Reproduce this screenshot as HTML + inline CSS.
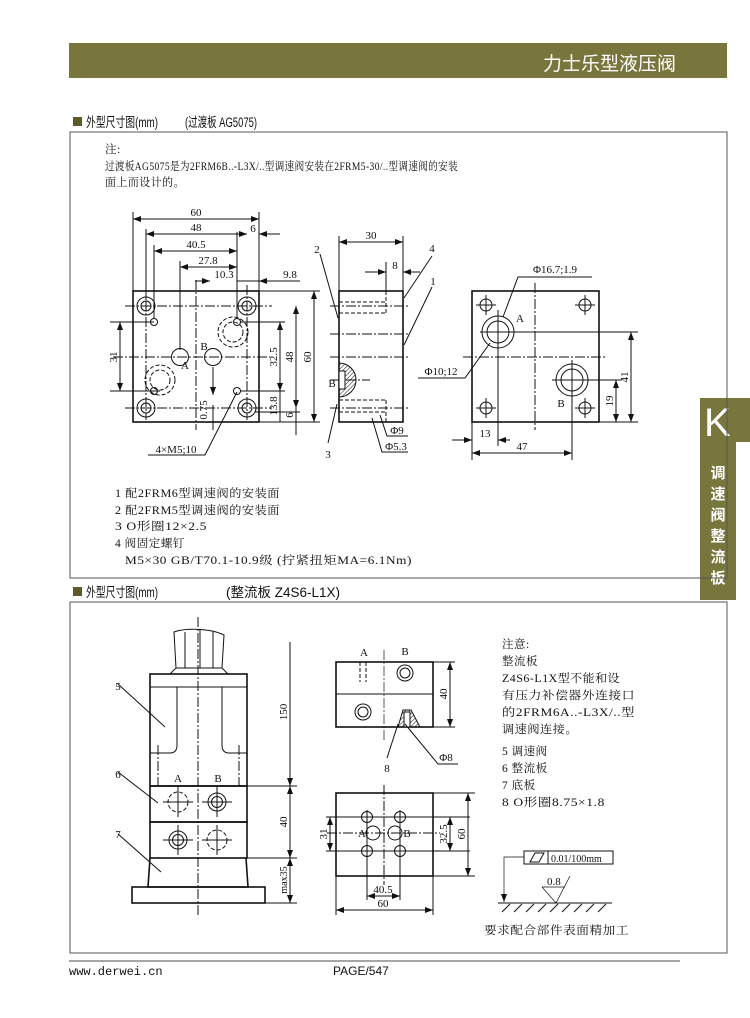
<!DOCTYPE html>
<html><head><meta charset="utf-8"><style>
body{margin:0;background:#fff;}
svg{display:block}
.t{font-family:"Liberation Serif","Noto Serif CJK SC",serif;font-size:11.5px;fill:#111;letter-spacing:0.5px}
.s{font-family:"Liberation Serif","Noto Serif CJK SC",serif;font-size:11px;fill:#111}
.h{font-family:"Liberation Sans","Noto Sans CJK SC",sans-serif;font-size:13.5px;fill:#111}
line,rect,circle,path,polyline{fill:none;stroke:#111;stroke-width:1}
.th{stroke-width:1.6}
.d{stroke-dasharray:4 2}
.c{stroke-dasharray:10 2 2 2;stroke-width:.7}
.dim{stroke-width:.7}
</style></head><body>
<svg width="750" height="1018" viewBox="0 0 750 1018" xmlns="http://www.w3.org/2000/svg">
<defs>
<marker id="a" markerWidth="8" markerHeight="6" refX="8" refY="3" orient="auto-start-reverse" markerUnits="userSpaceOnUse"><path d="M0,0 L8,3 L0,6 z" style="fill:#111;stroke:none"/></marker>
<pattern id="hp" width="3" height="3" patternUnits="userSpaceOnUse" patternTransform="rotate(45)"><line x1="0" y1="0" x2="0" y2="3" style="stroke:#111;stroke-width:1"/></pattern>
</defs>
<rect x="69" y="43" width="658" height="35" style="fill:#79763d;stroke:none"/>
<text x="676" y="70" text-anchor="end" style="font-family:'Liberation Sans','Noto Sans CJK SC',sans-serif;font-size:19px;fill:#fff">力士乐型液压阀</text>
<rect x="700" y="398" width="50" height="44" style="fill:#79763d;stroke:none"/>
<rect x="700" y="440" width="36" height="160" style="fill:#79763d;stroke:none"/>
<text x="704" y="436" style="font-family:'Liberation Sans',sans-serif;font-size:40px;fill:#fff">K</text>
<g style="font-family:'Liberation Sans','Noto Sans CJK SC',sans-serif;font-size:15px;fill:#fff;font-weight:bold" text-anchor="middle">
<text x="718" y="478">调</text><text x="718" y="499">速</text><text x="718" y="520">阀</text><text x="718" y="541">整</text><text x="718" y="562">流</text><text x="718" y="583">板</text></g>
<rect x="73" y="117" width="9" height="9" style="fill:#5d5a2a;stroke:none"/>
<text class="h" x="86" y="127" textLength="72" lengthAdjust="spacingAndGlyphs">外型尺寸图(mm)</text>
<text class="h" x="185" y="127" textLength="72" lengthAdjust="spacingAndGlyphs">(过渡板 AG5075)</text>
<rect x="70" y="132" width="657" height="446" style="stroke:#555"/>
<text class="t" x="105" y="153">注:</text>
<text class="t" x="105" y="170" textLength="353" lengthAdjust="spacingAndGlyphs">过渡板AG5075是为2FRM6B..-L3X/..型调速阀安装在2FRM5-30/..型调速阀的安装</text>
<text class="t" x="105" y="186" textLength="80" lengthAdjust="spacingAndGlyphs">面上而设计的。</text>
<rect x="133" y="291" width="126" height="131" class="th"/>
<g><circle cx="146" cy="306" r="9"/><circle cx="146" cy="306" r="5"/><circle cx="247" cy="306" r="9"/><circle cx="247" cy="306" r="5"/>
<circle cx="146" cy="408" r="9"/><circle cx="146" cy="408" r="5"/><circle cx="247" cy="408" r="9"/><circle cx="247" cy="408" r="5"/>
<circle cx="154" cy="322" r="3.5"/><circle cx="237" cy="322" r="3.5"/><circle cx="154" cy="391" r="3.5"/><circle cx="237" cy="391" r="3.5"/>
<circle cx="180" cy="357" r="8.5"/><circle cx="213" cy="357" r="8.5"/>
<circle cx="233" cy="332" r="15" class="d"/><circle cx="233" cy="332" r="10" class="d"/>
<circle cx="160" cy="380" r="15" class="d"/><circle cx="160" cy="380" r="10" class="d"/></g>
<g class="c"><line x1="113" y1="357" x2="270" y2="357"/><line x1="196" y1="280" x2="196" y2="430"/><line x1="125" y1="306" x2="272" y2="306"/><line x1="125" y1="408" x2="272" y2="408"/><line x1="146" y1="285" x2="146" y2="420"/><line x1="247" y1="285" x2="247" y2="420"/></g>
<g class="dim">
<line x1="133" y1="212" x2="133" y2="291"/><line x1="259" y1="212" x2="259" y2="291"/>
<line x1="146" y1="229" x2="146" y2="300"/><line x1="154" y1="245" x2="154" y2="318"/><line x1="180" y1="261" x2="180" y2="350"/><line x1="237" y1="232" x2="237" y2="318"/>
<line x1="133" y1="219" x2="259" y2="219" marker-start="url(#a)" marker-end="url(#a)"/>
<line x1="146" y1="234" x2="247" y2="234" marker-start="url(#a)" marker-end="url(#a)"/>
<line x1="259" y1="234" x2="280" y2="234" marker-start="url(#a)"/>
<line x1="154" y1="251" x2="237" y2="251" marker-start="url(#a)" marker-end="url(#a)"/>
<line x1="180" y1="267" x2="237" y2="267" marker-start="url(#a)" marker-end="url(#a)"/>
<line x1="195" y1="281" x2="210" y2="281" marker-end="url(#a)"/><line x1="237" y1="281" x2="300" y2="281"/><line x1="259" y1="281" x2="272" y2="281" marker-start="url(#a)"/>
<line x1="110" y1="322" x2="154" y2="322"/><line x1="110" y1="391" x2="160" y2="391"/>
<line x1="120" y1="322" x2="120" y2="391" marker-start="url(#a)" marker-end="url(#a)"/>
<line x1="259" y1="291" x2="320" y2="291"/><line x1="259" y1="422" x2="320" y2="422"/><line x1="240" y1="322" x2="285" y2="322"/><line x1="240" y1="391" x2="285" y2="391"/><line x1="255" y1="412" x2="300" y2="412"/>
<line x1="280" y1="322" x2="280" y2="391" marker-start="url(#a)" marker-end="url(#a)"/>
<line x1="296" y1="306" x2="296" y2="408" marker-start="url(#a)" marker-end="url(#a)"/>
<line x1="314" y1="291" x2="314" y2="422" marker-start="url(#a)" marker-end="url(#a)"/>
<line x1="280" y1="391" x2="280" y2="422"/><line x1="296" y1="408" x2="296" y2="435"/>
<line x1="213" y1="367" x2="213" y2="395" marker-end="url(#a)"/><line x1="213" y1="405" x2="213" y2="430"/>
<polyline points="148,455 205,455 237,392"/>
</g>
<g class="s" text-anchor="middle"><text x="196" y="216">60</text><text x="196" y="231">48</text><text x="253" y="232">6</text><text x="196" y="248">40.5</text><text x="208" y="264">27.8</text><text x="224" y="278">10.3</text><text x="290" y="278">9.8</text>
<text x="185" y="369">A</text><text x="204" y="350">B</text>
<text transform="translate(117,357) rotate(-90)">31</text><text transform="translate(277,357) rotate(-90)">32.5</text><text transform="translate(293,357) rotate(-90)">48</text><text transform="translate(311,357) rotate(-90)">60</text>
<text transform="translate(277,406) rotate(-90)">13.8</text><text transform="translate(293,415) rotate(-90)">6</text><text transform="translate(207,410) rotate(-90)">0.75</text>
<text x="176" y="453">4×M5;10</text></g>
<rect x="339" y="291" width="64" height="131" class="th"/>
<g class="d"><line x1="339" y1="302" x2="386" y2="302"/><line x1="339" y1="313" x2="386" y2="313"/><line x1="386" y1="291" x2="386" y2="313"/>
<line x1="339" y1="400" x2="386" y2="400"/><line x1="339" y1="412" x2="386" y2="412"/><line x1="386" y1="400" x2="386" y2="422"/></g>
<g class="c"><line x1="330" y1="306" x2="410" y2="306"/><line x1="330" y1="334" x2="410" y2="334"/><line x1="330" y1="357" x2="410" y2="357"/><line x1="330" y1="380" x2="370" y2="380"/><line x1="330" y1="408" x2="410" y2="408"/></g>
<path d="M339,363 A17,17 0 0 1 339,397 Z" style="fill:url(#hp)"/><rect x="339" y="371" width="6" height="18" style="fill:#fff"/>
<g class="dim"><line x1="339" y1="236" x2="339" y2="291"/><line x1="403" y1="236" x2="403" y2="291"/>
<line x1="339" y1="242" x2="403" y2="242" marker-start="url(#a)" marker-end="url(#a)"/>
<line x1="386" y1="262" x2="386" y2="291"/>
<line x1="365" y1="272" x2="386" y2="272" marker-end="url(#a)"/><line x1="403" y1="272" x2="420" y2="272" marker-start="url(#a)"/>
<line x1="320" y1="254" x2="338" y2="318"/><line x1="432" y1="256" x2="404" y2="298"/><line x1="432" y1="287" x2="404" y2="345"/>
<line x1="337" y1="404" x2="328" y2="443"/>
<polyline points="380,415 387,436 408,436"/><polyline points="372,418 382,452 408,452"/></g>
<g class="s" text-anchor="middle"><text x="371" y="239">30</text><text x="395" y="269">8</text><text x="317" y="253">2</text><text x="432" y="252">4</text><text x="433" y="285">1</text><text x="328" y="458">3</text><text x="332" y="387">B</text>
<text x="397" y="434">Φ9</text><text x="396" y="450">Φ5.3</text></g>
<rect x="472" y="291" width="127" height="131" class="th"/>
<g><circle cx="486" cy="305" r="6"/><circle cx="585" cy="305" r="6"/><circle cx="486" cy="408" r="6"/><circle cx="585" cy="408" r="6"/>
<circle cx="498" cy="332" r="16"/><circle cx="498" cy="332" r="11"/><circle cx="572" cy="380" r="16"/><circle cx="572" cy="380" r="11"/></g>
<g class="c"><line x1="535" y1="283" x2="535" y2="430"/><line x1="463" y1="357" x2="605" y2="357"/></g>
<g class="dim"><line x1="476" y1="305" x2="496" y2="305"/><line x1="575" y1="305" x2="595" y2="305"/><line x1="476" y1="408" x2="496" y2="408"/><line x1="575" y1="408" x2="595" y2="408"/>
<line x1="486" y1="295" x2="486" y2="315"/><line x1="585" y1="295" x2="585" y2="315"/><line x1="486" y1="398" x2="486" y2="418"/><line x1="585" y1="398" x2="585" y2="418"/>
<line x1="480" y1="332" x2="638" y2="332"/><line x1="498" y1="310" x2="498" y2="446"/><line x1="552" y1="380" x2="622" y2="380"/><line x1="572" y1="360" x2="572" y2="460"/><line x1="599" y1="422" x2="638" y2="422"/>
<line x1="631" y1="332" x2="631" y2="422" marker-start="url(#a)" marker-end="url(#a)"/>
<line x1="616" y1="380" x2="616" y2="422" marker-start="url(#a)" marker-end="url(#a)"/>
<line x1="472" y1="422" x2="472" y2="460"/>
<line x1="452" y1="440" x2="472" y2="440" marker-end="url(#a)"/><line x1="498" y1="440" x2="510" y2="440" marker-start="url(#a)"/>
<line x1="472" y1="453" x2="572" y2="453" marker-start="url(#a)" marker-end="url(#a)"/>
<polyline points="592,277 518,277 503,317"/><polyline points="418,378 465,378 490,343"/></g>
<g class="s" text-anchor="middle"><text x="555" y="273">Φ16.7;1.9</text><text x="441" y="375">Φ10;12</text><text x="520" y="322">A</text><text x="561" y="407">B</text>
<text x="485" y="437">13</text><text x="522" y="450">47</text><text transform="translate(628,377) rotate(-90)">41</text><text transform="translate(613,401) rotate(-90)">19</text></g>
<g class="t"><text x="115" y="497" textLength="165" lengthAdjust="spacingAndGlyphs">1 配2FRM6型调速阀的安装面</text><text x="115" y="514" textLength="165" lengthAdjust="spacingAndGlyphs">2 配2FRM5型调速阀的安装面</text><text x="115" y="530" textLength="92" lengthAdjust="spacingAndGlyphs">3 O形圈12×2.5</text><text x="115" y="547" textLength="70" lengthAdjust="spacingAndGlyphs">4 阀固定螺钉</text><text x="125" y="564" textLength="287" lengthAdjust="spacingAndGlyphs">M5×30 GB/T70.1-10.9级 (拧紧扭矩MA=6.1Nm)</text></g>
<rect x="73" y="587" width="9" height="9" style="fill:#5d5a2a;stroke:none"/>
<text class="h" x="86" y="597" textLength="72" lengthAdjust="spacingAndGlyphs">外型尺寸图(mm)</text>
<text class="h" x="226" y="597">(整流板 Z4S6-L1X)</text>
<rect x="70" y="602" width="657" height="351" style="stroke:#555"/>
<path d="M174,632 C185,628 210,628 224,635 L222,668 L176,668 Z"/><line x1="185" y1="632" x2="185" y2="668"/><line x1="200" y1="630" x2="200" y2="668"/><line x1="213" y1="632" x2="213" y2="668"/>
<path d="M170,674 L176,668 L222,668 L228,674"/>
<rect x="150" y="674" width="97" height="112" class="th"/><line x1="150" y1="687" x2="247" y2="687"/>
<path d="M177,687 L177,745 Q177,753 170,753 L150,753"/><path d="M222,687 L222,745 Q222,753 229,753 L247,753"/>
<rect x="150" y="786" width="97" height="36" class="th"/><rect x="150" y="822" width="97" height="36" class="th"/>
<path d="M150,858 L148,887 L248,887 L246,858" class="th"/><rect x="132" y="887" width="133" height="16" class="th"/>
<g class="c"><line x1="198" y1="617" x2="198" y2="915"/><line x1="158" y1="745" x2="158" y2="786"/><line x1="239" y1="745" x2="239" y2="786"/></g>
<circle cx="178" cy="802" r="10" class="d"/><circle cx="217" cy="802" r="9"/><circle cx="217" cy="802" r="5.5"/>
<circle cx="178" cy="840" r="9"/><circle cx="178" cy="840" r="5.5"/><circle cx="217" cy="840" r="10" class="d"/>
<g class="dim"><line x1="163" y1="802" x2="193" y2="802"/><line x1="202" y1="802" x2="232" y2="802"/><line x1="163" y1="840" x2="193" y2="840"/><line x1="202" y1="840" x2="232" y2="840"/>
<line x1="178" y1="787" x2="178" y2="817"/><line x1="217" y1="787" x2="217" y2="817"/><line x1="178" y1="825" x2="178" y2="855"/><line x1="217" y1="825" x2="217" y2="855"/>
<line x1="240" y1="786" x2="297" y2="786"/><line x1="247" y1="858" x2="297" y2="858"/><line x1="265" y1="903" x2="297" y2="903"/>
<line x1="290" y1="642" x2="290" y2="786" marker-end="url(#a)"/><line x1="290" y1="786" x2="290" y2="858" marker-start="url(#a)" marker-end="url(#a)"/><line x1="290" y1="858" x2="290" y2="903" marker-start="url(#a)" marker-end="url(#a)"/>
<line x1="118" y1="684" x2="165" y2="727"/><line x1="118" y1="772" x2="158" y2="803"/><line x1="118" y1="834" x2="161" y2="872"/></g>
<g class="s" text-anchor="middle"><text x="118" y="690">5</text><text x="118" y="778">6</text><text x="118" y="838">7</text><text x="178" y="782">A</text><text x="218" y="782">B</text>
<text transform="translate(287,712) rotate(-90)">150</text><text transform="translate(287,822) rotate(-90)">40</text><text transform="translate(287,880) rotate(-90)" style="font-size:10px">max35</text></g>
<rect x="336" y="662" width="97" height="65" class="th"/><line x1="336" y1="694" x2="433" y2="694"/>
<line x1="384" y1="650" x2="384" y2="740" class="c"/>
<circle cx="405" cy="673" r="8"/><circle cx="405" cy="673" r="5"/><circle cx="363" cy="712" r="8"/><circle cx="363" cy="712" r="5"/>
<g class="d"><line x1="360" y1="662" x2="360" y2="682"/><line x1="366" y1="662" x2="366" y2="682"/></g>
<path d="M398,727 L403,710 L411,710 L420,727 Z" style="fill:url(#hp)"/><rect x="404" y="712" width="6" height="15" style="fill:#fff"/>
<g class="dim"><line x1="433" y1="662" x2="455" y2="662"/><line x1="433" y1="727" x2="455" y2="727"/><line x1="450" y1="662" x2="450" y2="727" marker-start="url(#a)" marker-end="url(#a)"/>
<line x1="398" y1="724" x2="387" y2="758"/><polyline points="405,724 438,764 458,764"/></g>
<g class="s" text-anchor="middle"><text x="364" y="656">A</text><text x="405" y="655">B</text><text x="387" y="772">8</text><text x="446" y="761">Φ8</text><text transform="translate(447,694) rotate(-90)">40</text></g>
<rect x="336" y="793" width="97" height="83" class="th"/>
<circle cx="367" cy="817" r="5.5"/><circle cx="400" cy="817" r="5.5"/><circle cx="367" cy="851" r="5.5"/><circle cx="400" cy="851" r="5.5"/>
<circle cx="373" cy="833" r="7"/><circle cx="395" cy="833" r="7"/>
<g class="c"><line x1="384" y1="785" x2="384" y2="885"/><line x1="327" y1="833" x2="440" y2="833"/></g>
<g class="dim"><line x1="360" y1="817" x2="470" y2="817"/><line x1="360" y1="851" x2="470" y2="851"/><line x1="367" y1="810" x2="367" y2="900"/><line x1="400" y1="810" x2="400" y2="900"/>
<line x1="326" y1="817" x2="360" y2="817"/><line x1="326" y1="851" x2="360" y2="851"/>
<line x1="330" y1="817" x2="330" y2="851" marker-start="url(#a)" marker-end="url(#a)"/>
<line x1="450" y1="817" x2="450" y2="851" marker-start="url(#a)" marker-end="url(#a)"/>
<line x1="433" y1="793" x2="475" y2="793"/><line x1="433" y1="876" x2="475" y2="876"/><line x1="468" y1="793" x2="468" y2="876" marker-start="url(#a)" marker-end="url(#a)"/>
<line x1="367" y1="896" x2="400" y2="896" marker-start="url(#a)" marker-end="url(#a)"/>
<line x1="336" y1="876" x2="336" y2="915"/><line x1="433" y1="876" x2="433" y2="915"/><line x1="336" y1="910" x2="433" y2="910" marker-start="url(#a)" marker-end="url(#a)"/></g>
<g class="s" text-anchor="middle"><text x="362" y="837">A</text><text x="407" y="837">B</text><text x="383" y="893">40.5</text><text x="383" y="907">60</text>
<text transform="translate(327,834) rotate(-90)">31</text><text transform="translate(447,834) rotate(-90)">32.5</text><text transform="translate(465,834) rotate(-90)">60</text></g>
<g class="t"><text x="502" y="648">注意:</text><text x="502" y="665">整流板</text><text x="502" y="682" textLength="118" lengthAdjust="spacingAndGlyphs">Z4S6-L1X型不能和设</text><text x="502" y="699" textLength="133" lengthAdjust="spacingAndGlyphs">有压力补偿器外连接口</text><text x="502" y="716" textLength="133" lengthAdjust="spacingAndGlyphs">的2FRM6A..-L3X/..型</text><text x="502" y="733" textLength="76" lengthAdjust="spacingAndGlyphs">调速阀连接。</text>
<text x="502" y="755">5 调速阀</text><text x="502" y="772">6 整流板</text><text x="502" y="789">7 底板</text><text x="502" y="806" textLength="103" lengthAdjust="spacingAndGlyphs">8 O形圈8.75×1.8</text></g>
<rect x="524" y="851" width="89" height="13"/><line x1="548" y1="851" x2="548" y2="864"/><path d="M530,862 L535,853 L544,853 L539,862 Z"/>
<text class="s" x="551" y="862" style="font-size:10px">0.01/100mm</text>
<polyline points="524,857 504,857 504,902" class="dim" marker-end="url(#a)"/>
<line x1="498" y1="903" x2="612" y2="903"/>
<g class="dim"><line x1="502" y1="912" x2="510" y2="904"/><line x1="514" y1="912" x2="522" y2="904"/><line x1="526" y1="912" x2="534" y2="904"/><line x1="538" y1="912" x2="546" y2="904"/><line x1="550" y1="912" x2="558" y2="904"/><line x1="562" y1="912" x2="570" y2="904"/><line x1="574" y1="912" x2="582" y2="904"/><line x1="586" y1="912" x2="594" y2="904"/><line x1="598" y1="912" x2="606" y2="904"/></g>
<polyline points="542,887 556,903 570,876" class="dim"/><line x1="542" y1="887" x2="565" y2="887" class="dim"/>
<text class="s" x="547" y="885">0.8</text>
<text class="t" x="484" y="934" textLength="145" lengthAdjust="spacingAndGlyphs">要求配合部件表面精加工</text>
<line x1="69" y1="961" x2="680" y2="961" style="stroke:#888;stroke-width:1.5"/>
<text x="69" y="975" style="font-family:'Liberation Mono',monospace;font-size:12px;fill:#111">www.derwei.cn</text>
<text x="333" y="975" style="font-family:'Liberation Sans',sans-serif;font-size:12px;fill:#111">PAGE/547</text>
</svg>
</body></html>
